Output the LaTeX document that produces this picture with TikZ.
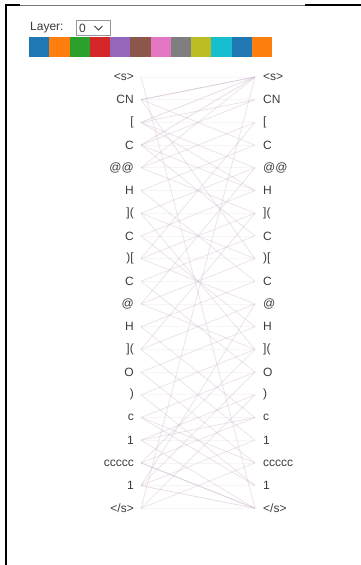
\documentclass[tikz,border=0pt]{standalone}
\usepackage{fontspec}
\setmainfont{Liberation Sans}
\usetikzlibrary{
  positioning,
  calc
}
\definecolor{tokencolor}{RGB}{60, 60, 60}
\definecolor{attncolor}{RGB}{205, 180, 200}
\definecolor{selectcolor}{RGB}{150, 150, 150}
\definecolor{rulegray}{RGB}{120, 120, 120}
\definecolor{head0}{RGB}{31, 119, 180}
\definecolor{head1}{RGB}{255, 127, 14}
\definecolor{head2}{RGB}{44, 160, 44}
\definecolor{head3}{RGB}{214, 39, 40}
\definecolor{head4}{RGB}{148, 103, 189}
\definecolor{head5}{RGB}{140, 86, 75}
\definecolor{head6}{RGB}{227, 119, 194}
\definecolor{head7}{RGB}{127, 127, 127}
\definecolor{head8}{RGB}{188, 189, 34}
\definecolor{head9}{RGB}{23, 190, 207}
\tikzset{
tokentext/.style={
  font=\fontsize{12}{14}\selectfont,
  text=tokencolor,
  inner sep=0pt
},
lefttoken/.style={
  tokentext,
  anchor=east
},
righttoken/.style={
  tokentext,
  anchor=west
},
attn/.style={
  draw=attncolor,
  line width=0.8pt,
  opacity=#1
},
attn/.default=0.35,
framerule/.style={
  draw=black,
  line width=2pt
},
headswatch/.style={
  minimum width=20.25pt,
  minimum height=20pt,
  inner sep=0pt,
  anchor=north west
}
}

\begin{document}
\begin{tikzpicture}[x=1pt, y=-1pt]
  \useasboundingbox (0,0) rectangle (361,565);
  \fill[white] (0,0) rectangle (361,565);

  % frame of the page
  \draw[framerule] (6,565) -- (6,5) -- (20,5);
  \draw[rulegray, line width=0.5pt] (20,5) -- (305,5);
  \draw[framerule] (305,5) -- (361,5);

  % layer selector
  \node[font=\fontsize{12}{14}\selectfont, text=tokencolor, anchor=west, inner sep=0pt]
    (layerlbl) at (30,28) {Layer:};
  \node[draw=selectcolor, anchor=west, minimum height=14pt, minimum width=34pt,
    inner xsep=3pt, align=left, font=\fontsize{12}{14}\selectfont, text=tokencolor,
    text width=28pt]
    (layersel) at (76,28) {0};
  \draw[tokencolor, line width=0.9pt]
    ($(layersel.east)+(-16,-2)$) -- ++(4,4) -- ++(4,-4);

  % head colours
  \foreach \c [count=\k] in {head0,head1,head2,head3,head4,head5,head6,head7,head8,head9,head0,head1}
    \node[headswatch, fill=\c] (sw\k) at ({29+(\k-1)*20.25},37) {};

  % tokens, both sides
  \foreach \tok [count=\i] in {{<s>},{CN},{[},{C},{@@},{H},{](},{C},{)[},{C},{@},{H},{](},{O},{)},{c},{1},{ccccc},{1},{</s>}} {
    \coordinate (la\i) at (141,{77+(\i-1)*22.7});
    \coordinate (ra\i) at (255,{77+(\i-1)*22.7});
    \node[lefttoken, left=7pt of la\i] (lt\i) {\tok};
    \node[righttoken, right=8pt of ra\i] (rt\i) {\tok};
  }

  % attention lines
  \foreach \a/\b in {1/20,20/1,2/1,3/2,4/2,5/3,5/1,6/4,7/5,8/6,9/7,10/8,11/9,12/10,
      13/11,14/12,15/13,16/14,17/15,18/16,19/17,20/18,3/6,4/8,6/10,8/12,10/14,
      12/16,14/18,16/19,17/20,18/20,15/19,20/15,19/14,18/13,17/16,16/18,13/17,
      7/13,9/3,11/5,13/7,2/9,19/11,3/5,5/7,7/9,9/11,11/13,2/4,4/6}
    \draw[attn] (la\a) -- (ra\b);
  \foreach \a in {1,...,20}
    \draw[attn=0.12] (la\a) -- (ra\a);
  \foreach \a/\b in {2/1,3/1,4/1,19/20,18/20}
    \draw[attn=0.45] (la\a) -- (ra\b);
\end{tikzpicture}
\end{document}
